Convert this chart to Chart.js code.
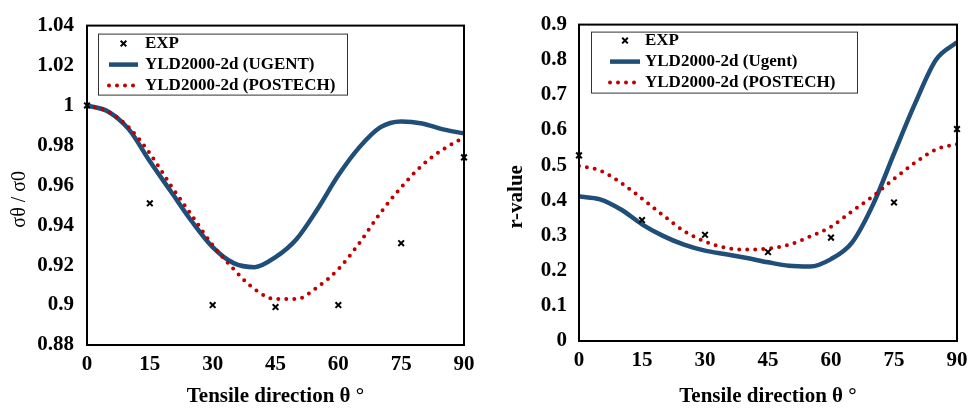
<!DOCTYPE html>
<html>
<head>
<meta charset="utf-8">
<script src="https://cdn.jsdelivr.net/npm/chart.js@4.4.1/dist/chart.umd.min.js"></script>
<style>
  html, body { margin: 0; padding: 0; background: #fff; }
  #wrap { position: relative; width: 978px; height: 411px; }
  canvas { position: absolute; top: 0; }
  #stressChart { left: 0; }
  #rChart { left: 489px; }
</style>
</head>
<body>
<div id="wrap">
  <canvas id="stressChart" width="489" height="411"></canvas>
  <canvas id="rChart" width="489" height="411"></canvas>
</div>
<script>
// Angles
const angles = [0, 5, 10, 15, 20, 25, 30, 35, 40, 45, 50, 55, 60, 65, 70, 75, 80, 85, 90];
const expAngles = [0, 15, 30, 45, 60, 75, 90];
const xTicks = [0, 15, 30, 45, 60, 75, 90];

// Normalised yield stress (left)
const stressExp = [1.000, 0.951, 0.900, 0.899, 0.900, 0.931, 0.974];
const stressUgent = [1.000, 0.997, 0.988, 0.972, 0.957, 0.942, 0.929, 0.921, 0.919, 0.924, 0.933, 0.948, 0.965, 0.979, 0.989, 0.992, 0.991, 0.988, 0.986];
const stressPostech = [1.000, 0.997, 0.989, 0.976, 0.960, 0.945, 0.930, 0.918, 0.908, 0.903, 0.903, 0.909, 0.918, 0.931, 0.946, 0.959, 0.970, 0.978, 0.984];
const stressTicks = [0.88, 0.9, 0.92, 0.94, 0.96, 0.98, 1, 1.02, 1.04];

// r-value (right)
const rExp = [0.528, 0.344, 0.302, 0.253, 0.294, 0.394, 0.603];
const rUgent = [0.411, 0.403, 0.374, 0.332, 0.299, 0.274, 0.257, 0.247, 0.236, 0.224, 0.214, 0.212, 0.233, 0.280, 0.388, 0.533, 0.675, 0.800, 0.850];
const rPostech = [0.498, 0.485, 0.450, 0.405, 0.358, 0.313, 0.283, 0.265, 0.260, 0.263, 0.274, 0.297, 0.325, 0.369, 0.412, 0.461, 0.507, 0.545, 0.560];
const rTicks = [0, 0.1, 0.2, 0.3, 0.4, 0.5, 0.6, 0.7, 0.8, 0.9];

const serif = "'Liberation Serif', 'Times New Roman', serif";
const blue = '#1F4E79';
const red = '#C00000';

function pts(xs, ys) {
    return xs.map((x, i) => ({ x, y: ys[i] }));
}

// Box around the plot, boxed legend inside it, and the y title (sits a bit below centre)
const framePlugin = {
    id: 'frame',
    afterDatasetsDraw(chart, args, opts) {
        const { ctx, chartArea: a } = chart;
        const lg = opts.legend;
        ctx.save();
        ctx.strokeStyle = '#000';
        ctx.lineWidth = 2;
        ctx.strokeRect(a.left, a.top, a.right - a.left, a.bottom - a.top);

        const bx = a.left + lg.x, by = a.top + lg.y;
        ctx.fillStyle = '#fff';
        ctx.fillRect(bx, by, lg.w, lg.h);
        ctx.lineWidth = 1;
        ctx.strokeStyle = '#333';
        ctx.strokeRect(bx + 0.5, by + 0.5, lg.w, lg.h);

        ctx.font = 'bold 17px ' + serif;
        ctx.textBaseline = 'middle';
        chart.data.datasets.forEach((ds, i) => {
            const y = by + lg.rows[i];
            const x0 = bx + lg.line[0], x1 = bx + lg.line[1];
            if (ds.showLine === false) {
                const cx = (x0 + x1) / 2, r = 2.8;
                ctx.beginPath();
                ctx.setLineDash([]);
                ctx.lineWidth = 2;
                ctx.strokeStyle = ds.borderColor;
                ctx.moveTo(cx - r, y - r); ctx.lineTo(cx + r, y + r);
                ctx.moveTo(cx + r, y - r); ctx.lineTo(cx - r, y + r);
                ctx.stroke();
            } else {
                ctx.beginPath();
                ctx.setLineDash(ds.borderDash || []);
                ctx.lineCap = ds.borderCapStyle || 'butt';
                ctx.lineWidth = ds.borderWidth;
                ctx.strokeStyle = ds.borderColor;
                ctx.moveTo(x0, y);
                ctx.lineTo(x1, y);
                ctx.stroke();
                ctx.setLineDash([]);
            }
            ctx.fillStyle = '#000';
            ctx.fillText(ds.label, bx + lg.textX, y);
        });

        const t = opts.yTitle;
        ctx.translate(t.x, (a.top + a.bottom) / 2 + t.dy);
        ctx.rotate(-Math.PI / 2);
        ctx.font = t.font;
        ctx.textAlign = 'center';
        ctx.fillStyle = '#000';
        ctx.fillText(t.text, 0, 0);
        ctx.restore();
    }
};

function makeChart(id, cfg) {
    return new Chart(document.getElementById(id), {
        type: 'line',
        data: {
            datasets: [
                { label: 'EXP', data: pts(expAngles, cfg.exp), showLine: false, pointStyle: 'crossRot',
                  pointRadius: 4, pointBorderWidth: 2, borderColor: '#000', backgroundColor: '#000', clip: false, order: 0 },
                { label: cfg.ugentName, data: pts(angles, cfg.ugent), borderColor: blue, borderWidth: 4.5,
                  pointRadius: 0, cubicInterpolationMode: 'monotone', order: 2 },
                { label: 'YLD2000-2d (POSTECH)', data: pts(angles, cfg.postech), borderColor: red, borderWidth: 4,
                  borderDash: [0, 8], borderCapStyle: 'round', pointRadius: 0, cubicInterpolationMode: 'monotone', order: 1 }
            ]
        },
        options: {
            responsive: false,
            animation: false,
            devicePixelRatio: 1,
            layout: { padding: cfg.padding },
            plugins: {
                legend: { display: false },
                tooltip: { enabled: false },
                frame: { legend: cfg.legend, yTitle: cfg.yTitle }
            },
            scales: {
                x: {
                    type: 'linear', min: 0, max: 90,
                    afterBuildTicks: s => { s.ticks = xTicks.map(v => ({ value: v })); },
                    afterFit: s => { s.height = cfg.xHeight; },
                    grid: { display: false, drawTicks: false },
                    border: { display: false },
                    ticks: { color: '#000', padding: 7, font: { family: serif, size: 21, weight: 'bold' } },
                    title: { display: true, text: 'Tensile direction θ °', color: '#000', padding: { top: 0, bottom: 2 },
                             font: { family: serif, size: 21, weight: 'bold' } }
                },
                y: {
                    type: 'linear', min: cfg.yTicks[0], max: cfg.yTicks[cfg.yTicks.length - 1],
                    afterBuildTicks: s => { s.ticks = cfg.yTicks.map(v => ({ value: v })); },
                    afterFit: s => { s.width = cfg.yWidth; },
                    grid: { display: false, drawTicks: false },
                    border: { display: false },
                    ticks: { color: '#000', padding: cfg.yTickPad, callback: v => String(v),
                             font: { family: serif, size: 21, weight: 'bold' } }
                }
            }
        },
        plugins: [framePlugin]
    });
}

makeChart('stressChart', {
    exp: stressExp, ugent: stressUgent, postech: stressPostech, yTicks: stressTicks,
    ugentName: 'YLD2000-2d (UGENT)',
    yTitle: { text: 'σθ / σ0', font: '20px ' + serif, x: 20, dy: 14 },
    padding: { top: 17, right: 25, left: 0, bottom: 0 },
    yWidth: 87, xHeight: 66, yTickPad: 13,
    legend: { x: 11, y: 8, w: 249, h: 61, rows: [10, 31, 52], line: [11, 40], textX: 47 }
});

makeChart('rChart', {
    exp: rExp, ugent: rUgent, postech: rPostech, yTicks: rTicks,
    ugentName: 'YLD2000-2d (Ugent)',
    yTitle: { text: 'r-value', font: 'bold 21px ' + serif, x: 28, dy: 14 },
    padding: { top: 20, right: 21, left: 0, bottom: 0 },
    yWidth: 90, xHeight: 70, yTickPad: 12,
    legend: { x: 12, y: 7, w: 266, h: 61, rows: [9, 30, 51], line: [19, 49], textX: 54 }
});
</script>
</body>
</html>
